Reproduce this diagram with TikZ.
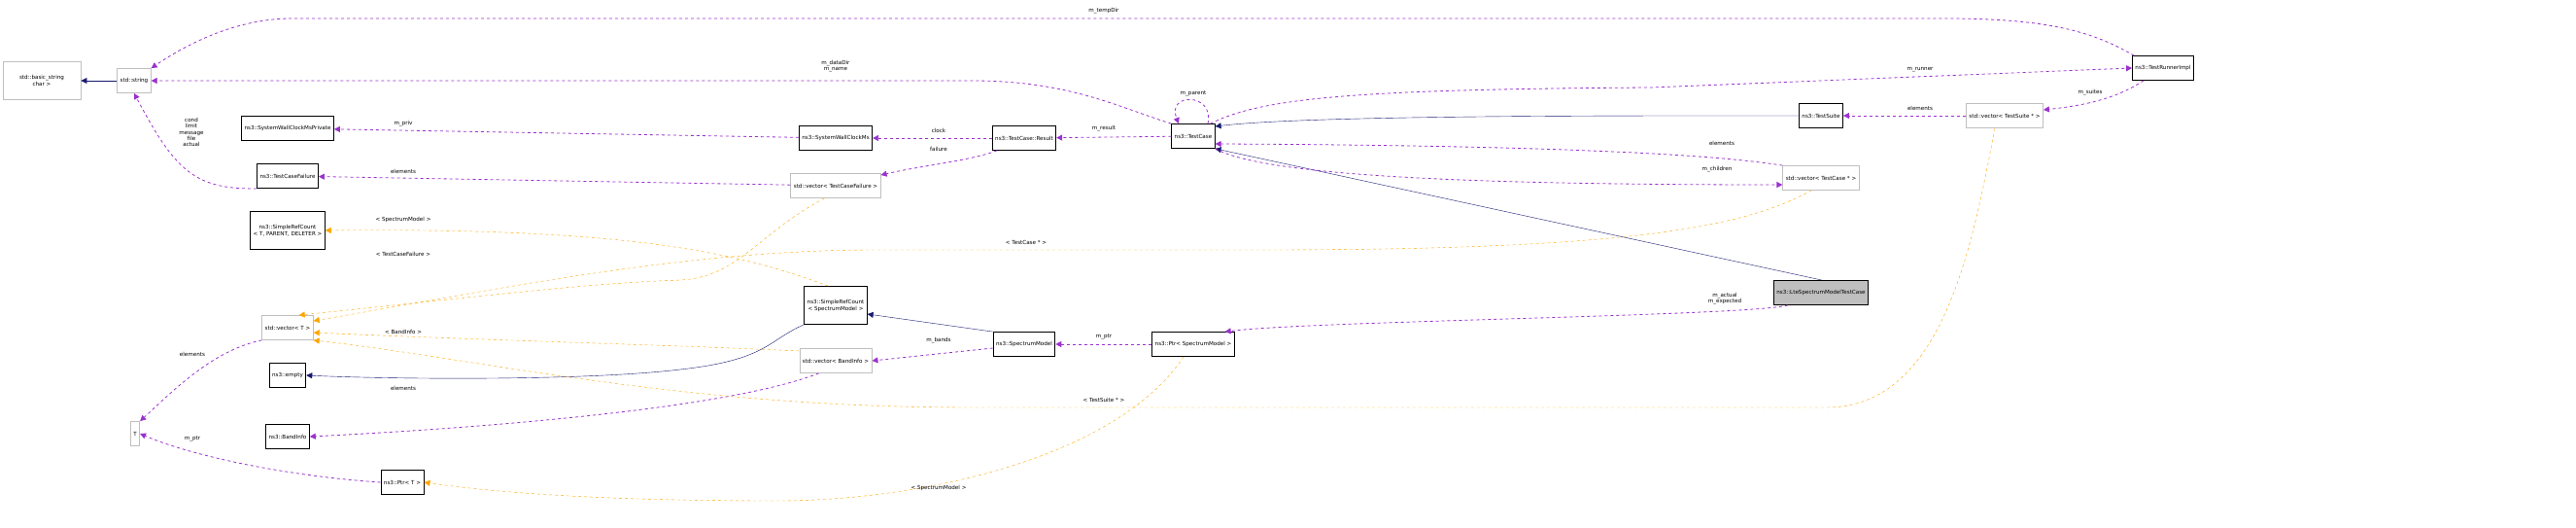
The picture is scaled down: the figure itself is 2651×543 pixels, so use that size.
\documentclass[tikz,border=0pt]{standalone}
\usepackage{fontspec}
\setmainfont{DejaVu Sans}
\usetikzlibrary{arrows.meta}
\definecolor{usecol}{HTML}{9A32CD}
\definecolor{tmplcol}{HTML}{FFA500}
\definecolor{inhcol}{HTML}{191970}
\tikzset{
  cls/.style={draw=black, thick, fill=white, inner xsep=3pt, minimum height=25pt, align=center, font=\fontsize{5.6}{7}\selectfont},
  ext/.style={cls, draw=black!25},
  cur/.style={cls, fill=black!25},
  use/.style={draw=usecol, dashed, thick, -{Triangle[length=6pt,width=6pt]}},
  tmpl/.style={draw=tmplcol, dashed, -{Triangle[length=6pt,width=6pt]}},
  inh/.style={draw=inhcol, -{Triangle[length=6pt,width=6pt]}},
  lbl/.style={font=\fontsize{5.6}{6.4}\selectfont, align=center, inner sep=1pt}
}
\begin{document}
\begin{tikzpicture}[x=1pt,y=-1pt]
\useasboundingbox (0,0) rectangle (2651,543);
\node[ext, minimum width=80pt, minimum height=39pt] (bstr) at (43,83) {std::basic\_string\\char >};
\node[ext] (str) at (138,83) {std::string};
\node[cls] (wcp) at (296,132) {ns3::SystemWallClockMsPrivate};
\node[cls] (tcf) at (296,181) {ns3::TestCaseFailure};
\node[cls, minimum height=39pt] (srct) at (296,237) {ns3::SimpleRefCount\\< T, PARENT, DELETER >};
\node[ext] (vect) at (296,337) {std::vector< T >};
\node[cls] (empty) at (296,386) {ns3::empty};
\node[cls] (band) at (296,449) {ns3::BandInfo};
\node[ext] (T) at (139,446) {T};
\node[cls] (ptrt) at (414,496) {ns3::Ptr< T >};
\node[cls] (wc) at (860,142) {ns3::SystemWallClockMs};
\node[ext] (vtcf) at (860,191) {std::vector< TestCaseFailure >};
\node[cls, minimum height=39pt] (srcsm) at (860,314) {ns3::SimpleRefCount\\< SpectrumModel >};
\node[ext] (vband) at (860,371) {std::vector< BandInfo >};
\node[cls] (res) at (1054,142) {ns3::TestCase::Result};
\node[cls] (sm) at (1054,354) {ns3::SpectrumModel};
\node[cls] (tc) at (1228,140) {ns3::TestCase};
\node[cls] (ptrsm) at (1228,354) {ns3::Ptr< SpectrumModel >};
\node[cls] (ts) at (1874,119) {ns3::TestSuite};
\node[ext] (vtc) at (1874,183) {std::vector< TestCase * >};
\node[cur] (lte) at (1874,301) {ns3::LteSpectrumModelTestCase};
\node[ext] (vts) at (2063,119) {std::vector< TestSuite * >};
\node[cls] (runner) at (2226,70) {ns3::TestRunnerImpl};
% inheritance
\draw[inh] (str) -- (bstr);
\draw[inh] (ts.west) .. controls (1700,119) and (1350,118) .. (tc.east |- 0,130);
\draw[inh] ([xshift=50pt]lte.north west) -- (tc.south east);
\draw[inh] (sm.north west) -- (srcsm.east |- 0,323);
\draw[inh] (srcsm.south west) .. controls (790,350) and (790,370) .. (700,380) .. controls (600,392) and (400,390) .. (empty.east);
% usage
\draw[use] ([xshift=-30pt]runner.north) .. controls (2150,30) and (2100,19) .. (2000,19) -- (300,19) .. controls (250,19) and (200,40) .. (str.north east);
\draw[use] (tc.north west) .. controls (1150,110) and (1100,83) .. (1000,83) -- (str.east);
\node[lbl] at (1136,11) {m\_tempDir};
\node[lbl] at (860,68) {m\_dataDir\\m\_name};
\draw[use] ([xshift=-5pt]tc.north east) .. controls (1300,100) and (1400,92) .. (1700,90) -- (runner.west);
\node[lbl] at (1976,72) {m\_runner};
\draw[use] ([xshift=-20pt]runner.south) .. controls (2180,100) and (2150,108) .. (vts.east |- 0,113);
\node[lbl] at (2151,95) {m\_suites};
\draw[use] (vts) -- (ts);
\node[lbl] at (1976,111) {elements};
\draw[use] ([xshift=15pt]tc.north) .. controls (1250,95) and (1200,95) .. ([xshift=-15pt]tc.north);
\node[lbl] at (1228,96) {m\_parent};
\draw[use] (tc) -- (res);
\node[lbl] at (1136,132) {m\_result};
\draw[use] (res) -- (wc);
\node[lbl] at (966,134) {clock};
\draw[use] ([xshift=5pt]res.south west) .. controls (1000,165) and (950,170) .. (vtcf.east |- 0,180);
\node[lbl] at (966,153) {failure};
\draw[use] (wc) -- (wcp);
\node[lbl] at (415,127) {m\_priv};
\draw[use] (vtcf) -- (tcf);
\node[lbl] at (415,176) {elements};
\draw[use] (tcf.south west) .. controls (200,195) and (180,175) .. (str.south);
\node[lbl] at (197,136) {cond\\limit\\message\\file\\actual};
\draw[use] (vtc.north west) .. controls (1800,165) and (1700,150) .. (tc.east |- 0,148);
\node[lbl] at (1772,147) {elements};
\draw[use] (tc.south east) .. controls (1300,180) and (1500,190) .. (vtc.west |- 0,190);
\node[lbl] at (1767,174) {m\_children};
\draw[use] (vect.south west) .. controls (220,360) and (180,400) .. (T.north east);
\node[lbl] at (198,364) {elements};
\draw[use] (ptrt.west) .. controls (300,490) and (200,470) .. (T.east);
\node[lbl] at (198,451) {m\_ptr};
\draw[use] (sm.west |- 0,358) -- (vband.east);
\node[lbl] at (966,350) {m\_bands};
\draw[use] ([xshift=20pt]vband.south west) .. controls (750,420) and (500,440) .. (band.east);
\node[lbl] at (415,399) {elements};
\draw[use] (ptrsm) -- (sm);
\node[lbl] at (1136,346) {m\_ptr};
\draw[use] ([xshift=15pt]lte.south west) .. controls (1800,325) and (1350,330) .. ([xshift=-10pt]ptrsm.north east);
\node[lbl] at (1775,307) {m\_actual\\m\_expected};
% templates
\draw[tmpl] ([xshift=35pt]vtcf.south west) .. controls (780,240) and (760,285) .. (700,288) .. controls (600,292) and (540,300) .. ([xshift=-15pt]vect.north east);
\node[lbl] at (415,261) {< TestCaseFailure >};
\draw[tmpl] ([xshift=30pt]vtc.south west) .. controls (1800,230) and (1700,257) .. (1300,257) -- (900,257) .. controls (700,257) and (500,300) .. (vect.east |- 0,330);
\node[lbl] at (1056,249) {< TestCase * >};
\draw[tmpl] ([yshift=10pt]vband.west) .. controls (700,355) and (500,350) .. (vect.east |- 0,342);
\node[lbl] at (415,341) {< BandInfo >};
\draw[tmpl] ([xshift=-10pt]vts.south) .. controls (2030,250) and (2000,419) .. (1880,419) -- (1000,419) .. controls (700,419) and (500,370) .. (vect.south east);
\node[lbl] at (1136,411) {< TestSuite * >};
\draw[tmpl] ([xshift=25pt]srcsm.north west) .. controls (760,260) and (650,234) .. (srct.east);
\node[lbl] at (415,226) {< SpectrumModel >};
\draw[tmpl] ([xshift=-10pt]ptrsm.south) .. controls (1150,470) and (950,515) .. (800,515) .. controls (600,515) and (500,505) .. (ptrt.east);
\node[lbl] at (966,502) {< SpectrumModel >};
\end{tikzpicture}
\end{document}
